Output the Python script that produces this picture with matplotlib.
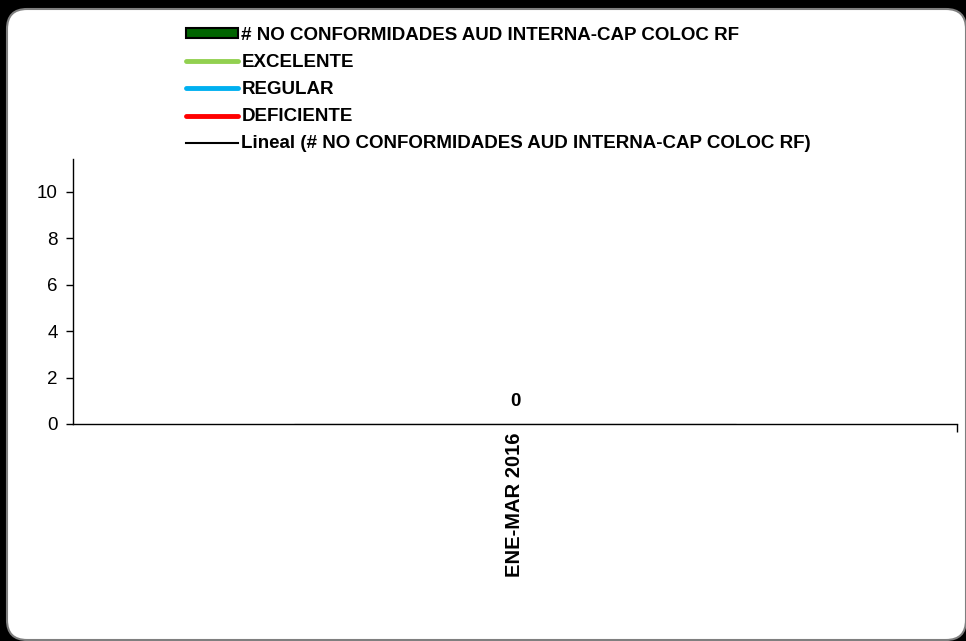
import matplotlib
matplotlib.use("Agg")
import matplotlib.pyplot as plt
from matplotlib.patches import FancyBboxPatch, Patch
from matplotlib.lines import Line2D

plt.rcParams['font.family'] = ['Liberation Sans', 'DejaVu Sans']

# data
categories = ["ENE-MAR 2016"]
no_conformidades = [0]
excelente = [0]
regular = [0]
deficiente = [0]
y_ticks = [0, 2, 4, 6, 8, 10]

bar_label = "# NO CONFORMIDADES AUD INTERNA-CAP COLOC RF"
series_labels = ["EXCELENTE", "REGULAR", "DEFICIENTE"]
series_colors = ["#92d050", "#00b0f0", "#ff0000"]
trend_label = "Lineal (# NO CONFORMIDADES AUD INTERNA-CAP COLOC RF)"

fig = plt.figure(figsize=(9.66, 6.41), dpi=100, facecolor="black")

# white rounded chart area with gray border (pixel coordinates)
box = FancyBboxPatch((7, 1), 959, 631, boxstyle="round,pad=0,rounding_size=20",
                     transform=None, facecolor="white", edgecolor="#7f7f7f",
                     linewidth=1.5, zorder=-10)
fig.patches.append(box)

ax = fig.add_axes([73 / 966, 1 - 424 / 641, (957 - 73) / 966, (424 - 159) / 641])
ax.set_facecolor("none")
ax.set_zorder(1)

x = list(range(len(categories)))
ax.bar(x, no_conformidades, width=0.5, color="#006400", edgecolor="black", linewidth=0.8)
for vals, c in zip([excelente, regular, deficiente], series_colors):
    ax.plot(x, vals, color=c, linewidth=3, solid_capstyle="round")

for xi, v in zip(x, no_conformidades):
    ax.annotate(str(v), (xi, v), xytext=(0, 16.5), textcoords="offset points",
                ha="center", va="center", fontsize=13.5, fontweight="bold")

ax.set_xlim(-0.5, len(categories) - 0.5)
ax.set_ylim(0, 11.4)
ax.set_yticks(y_ticks)
ax.tick_params(axis="y", direction="out", length=5, width=1, labelsize=13.5, pad=6)

ax.set_xticks(x)
ax.set_xticklabels(categories, rotation=90, fontsize=14.5, fontweight="bold")
ax.tick_params(axis="x", which="major", length=0, pad=6)
ax.set_xticks([i + 0.5 for i in range(len(categories))], minor=True)
ax.tick_params(axis="x", which="minor", direction="out", length=6, width=1)

for s in ["top", "right"]:
    ax.spines[s].set_visible(False)
for s in ["left", "bottom"]:
    ax.spines[s].set_linewidth(1)

handles = [Patch(facecolor="#006400", edgecolor="black", linewidth=1.5)]
handles += [Line2D([], [], color=c, linewidth=3.5, solid_capstyle="round") for c in series_colors]
handles += [Line2D([], [], color="black", linewidth=1.5)]
labels = [bar_label] + series_labels + [trend_label]

leg = fig.legend(handles, labels, loc="upper left", bbox_to_anchor=(186 / 966, 1 - 27 / 641),
                 frameon=False, borderpad=0, borderaxespad=0, handlelength=2.75,
                 handleheight=0.45, handletextpad=0.2, labelspacing=0.54,
                 prop={"weight": "bold", "size": 13.5})

fig.savefig("out.png", dpi=100, facecolor="black")
